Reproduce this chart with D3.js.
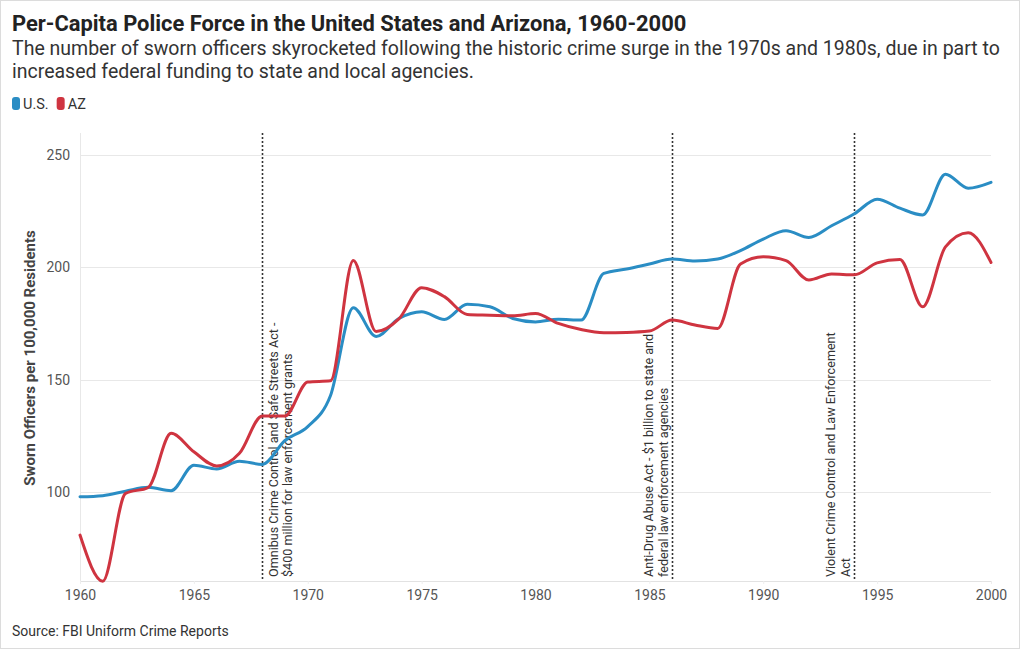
<!DOCTYPE html>
<html><head><meta charset="utf-8">
<script src="https://cdn.jsdelivr.net/npm/d3@7"></script>
<style>
html,body{margin:0;padding:0;background:#fff;}
svg{display:block;font-family:Roboto,"Noto Sans",sans-serif;}
</style></head>
<body>
<svg id="chart" width="1020" height="650"></svg>
<script>
const years = d3.range(1960, 2001);
const usValues = [98,98.5,100.5,102.2,100.7,112,110.4,113.8,112.4,123,129.2,143,182,169.2,177.2,180.2,176.8,183.5,182.4,177.2,175.7,176.9,176.5,197.2,199.2,201.4,203.6,202.7,203.6,207.4,212.5,216.2,213.2,218.4,223.7,230.2,226.2,223.2,241.3,235.1,237.7];
const azValues = [81,60.5,99.5,102.2,126.2,118,111.7,117.3,133.9,133.9,149,149.5,203,171.4,177,190.9,186.9,179,178.7,178.4,179.4,175,172.3,170.9,171,171.6,176.5,174.3,172.8,201.4,204.6,202.9,194.3,197,196.6,201.9,203.4,182.4,209,215.3,202.1];
const seriesNames = ["U.S.", "AZ"];
const yTicks = [100, 150, 200, 250];
const xTicks = [1960, 1965, 1970, 1975, 1980, 1985, 1990, 1995, 2000];
const annotationYears = [1968, 1986, 1994];
const annotationLines = [
  ["Omnibus Crime Control and Safe Streets Act -", "$400 million for law enforcement grants"],
  ["Anti-Drug Abuse Act - $1 billion to state and", "federal law enforcement agencies"],
  ["Violent Crime Control and Law Enforcement", "Act"]
];
const annotationSide = ["right", "left", "left"];
const titleText = "Per-Capita Police Force in the United States and Arizona, 1960-2000";
const subtitleLines = ["The number of sworn officers skyrocketed following the historic crime surge in the 1970s and 1980s, due in part to", "increased federal funding to state and local agencies."];
const yLabel = "Sworn Officers per 100,000 Residents";
const sourceText = "Source: FBI Uniform Crime Reports";

const colors = ["#2a8dc4", "#cf3440"];
const svg = d3.select("#chart");

// border
svg.append("rect").attr("x",0.5).attr("y",0.5).attr("width",1019).attr("height",648)
  .attr("fill","none").attr("stroke","#dcdcdc");

// title
svg.append("text").attr("x",12).attr("y",31).attr("font-size",21.9).attr("font-weight",700)
  .attr("fill","#222").text(titleText);
subtitleLines.forEach((t,i)=>{
  svg.append("text").attr("x",12).attr("y",55+i*23).attr("font-size",19.5).attr("fill","#333").text(t);
});

// legend
const lg = svg.append("g").attr("transform","translate(12,96)");
let lx = 0;
seriesNames.forEach((n,i)=>{
  const g = lg.append("g").attr("transform",`translate(${lx},0)`);
  g.append("rect").attr("x",0).attr("y",1).attr("width",8).attr("height",13).attr("rx",3).attr("fill",colors[i]);
  const t = g.append("text").attr("x",11).attr("y",12.5).attr("font-size",14.5).attr("fill","#333").text(n);
  lx += 11 + t.node().getComputedTextLength() + 8;
});

const x = d3.scaleLinear().domain([1960,2000]).range([80,991]);
const y = d3.scaleLinear().domain([60.6,259.6]).range([581,133]);

// grid
const grid = svg.append("g");
yTicks.forEach(v=>{
  grid.append("line").attr("x1",80).attr("x2",991).attr("y1",Math.round(y(v))+0.5).attr("y2",Math.round(y(v))+0.5)
    .attr("stroke","#e8e8e8");
});
grid.append("line").attr("x1",80.5).attr("x2",80.5).attr("y1",133).attr("y2",581).attr("stroke","#e8e8e8");
grid.append("line").attr("x1",80).attr("x2",991).attr("y1",581.5).attr("y2",581.5).attr("stroke","#e2e2e2");

// y axis
const yAxis = svg.append("g").attr("transform","translate(80,0)")
  .call(d3.axisLeft(y).tickValues(yTicks).tickSize(0).tickPadding(10));
yAxis.select(".domain").remove();
yAxis.selectAll("text").attr("font-size",14).attr("fill","#555").attr("font-family","Roboto");

// x axis
const xAxis = svg.append("g").attr("transform","translate(0,581)")
  .call(d3.axisBottom(x).tickValues(xTicks).tickFormat(d3.format("d")).tickSize(3).tickPadding(6));
xAxis.select(".domain").remove();
xAxis.selectAll("line").attr("stroke","#eee");
xAxis.selectAll("text").attr("font-size",14).attr("fill","#555").attr("font-family","Roboto");

// y label
svg.append("text").attr("transform","translate(35,358) rotate(-90)").attr("text-anchor","middle")
  .attr("font-size",15).attr("font-weight",700).attr("fill","#444").text(yLabel);

// annotations
annotationYears.forEach((yr,i)=>{
  const ax = Math.round(x(yr))+0.5;
  svg.append("line").attr("x1",ax).attr("x2",ax).attr("y1",133).attr("y2",581)
    .attr("stroke","#333").attr("stroke-width",1.6).attr("stroke-dasharray","2,2");
  const offs = annotationSide[i]==="right" ? [10.5,24.5] : [-24,-9];
  annotationLines[i].forEach((t,j)=>{
    svg.append("text").attr("transform",`translate(${ax+offs[j]},577) rotate(-90)`)
      .attr("dominant-baseline","central").attr("font-size",12.6).attr("fill","#333").text(t);
  });
});

// lines
const line = d3.line().x((d,i)=>x(years[i])).y(d=>y(d)).curve(d3.curveMonotoneX);
svg.append("defs").append("clipPath").attr("id","clip").append("rect")
  .attr("x",75).attr("y",120).attr("width",925).attr("height",463);
[usValues, azValues].forEach((vals,i)=>{
  svg.append("path").datum(vals).attr("d",line).attr("fill","none").attr("stroke",colors[i])
    .attr("stroke-width",3).attr("stroke-linejoin","round").attr("stroke-linecap","round")
    .attr("clip-path","url(#clip)");
});

// source
svg.append("text").attr("x",12).attr("y",636).attr("font-size",14).attr("fill","#333").text(sourceText);
</script>
</body></html>
